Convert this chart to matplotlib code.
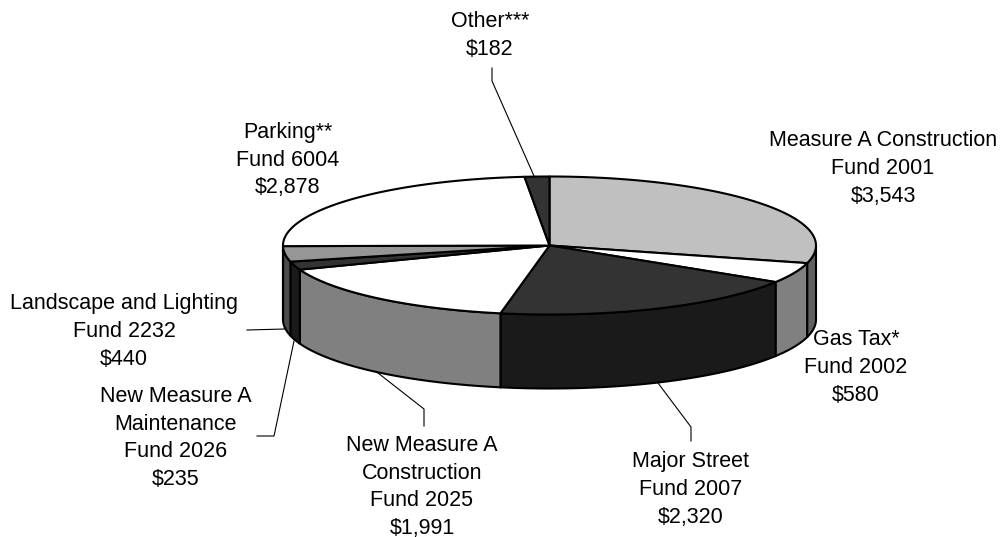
#!/usr/bin/python3
import numpy as np
import matplotlib
matplotlib.use('Agg')
import matplotlib.pyplot as plt
from matplotlib.patches import Polygon

names = ['Measure A Construction\nFund 2001', 'Gas Tax*\nFund 2002', 'Major Street\nFund 2007',
         'New Measure A\nConstruction\nFund 2025', 'New Measure A\nMaintenance\nFund 2026',
         'Landscape and Lighting\nFund 2232', 'Parking**\nFund 6004', 'Other***']
values = [3543, 580, 2320, 1991, 235, 440, 2878, 182]
top_colors = ['#c0c0c0', '#ffffff', '#333333', '#ffffff', '#333333', '#969696', '#ffffff', '#333333']
side_colors = ['#606060', '#808080', '#1a1a1a', '#808080', '#1a1a1a', '#4b4b4b', '#808080', '#1a1a1a']
label_pos = [(883, 168.5), (856, 367.5), (691, 489.5), (422, 487), (176, 438), (124, 331.5), (288, 160), (490, 35.5)]
leaders = [None, None, [(658, 383), (691, 427), (691, 441)], [(378, 373), (424, 409), (424, 426)],
           [(294, 341), (274, 436), (257, 436)], [(285, 329), (247, 330)], None,
           [(534, 176), (492, 81), (492, 68)]]

cx, cy, rx, ry, depth = 549.5, 245.5, 266.5, 69, 74


def ellipse_pts(a, b, dy=0):
    t = np.radians(np.linspace(a, b, max(int(abs(b - a)) * 2, 2)))
    return np.column_stack([cx + rx * np.sin(t), cy - ry * np.cos(t) + dy])


fig = plt.figure(figsize=(10, 5.37), dpi=100)
ax = fig.add_axes([0, 0, 1, 1])
ax.set_xlim(0, 1000)
ax.set_ylim(537, 0)
ax.axis('off')

edges = np.concatenate([[0], np.cumsum(values)]) / sum(values) * 360

# side walls first, only the front half of the disc shows
for i in range(len(values)):
    a, b = max(edges[i], 90), min(edges[i + 1], 270)
    if a >= b:
        continue
    upper = ellipse_pts(a, b)
    lower = ellipse_pts(a, b, depth)[::-1]
    ax.add_patch(Polygon(np.vstack([upper, lower]), closed=True, fc=side_colors[i], ec='black', lw=1.5, zorder=2))

# top slices
for i in range(len(values)):
    pts = np.vstack([[(cx, cy)], ellipse_pts(edges[i], edges[i + 1])])
    ax.add_patch(Polygon(pts, closed=True, fc=top_colors[i], ec='black', lw=1.5, joinstyle='round', zorder=3))

for line in leaders:
    if line is not None:
        xs, ys = zip(*line)
        ax.plot(xs, ys, color='black', lw=0.8, zorder=1)

for name, val, (x, y) in zip(names, values, label_pos):
    ax.text(x, y, name + '\n${:,}'.format(val), ha='center', va='center', fontsize=15.5,
            family='Liberation Sans', linespacing=1.41, color='black')

fig.savefig('out.png', dpi=100, facecolor='white')
